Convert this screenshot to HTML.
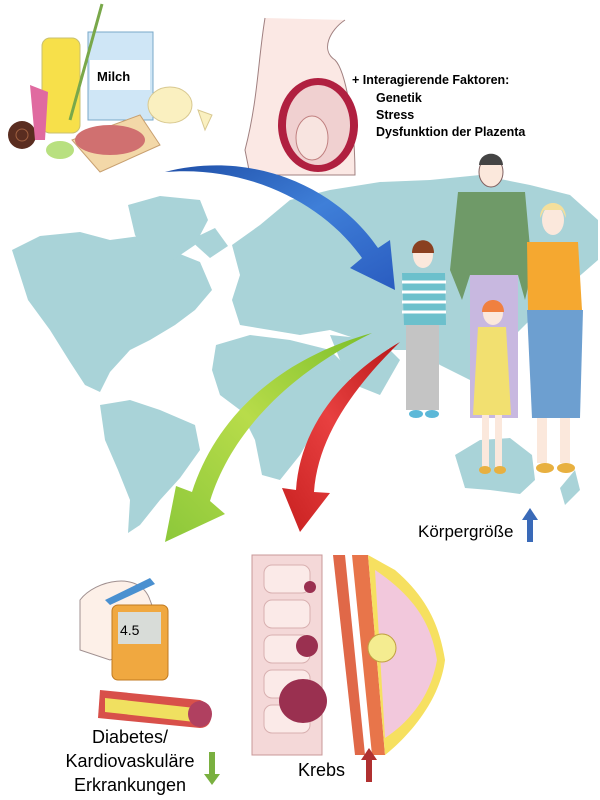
<!DOCTYPE html>
<html><head><meta charset="utf-8"><style>
html,body{margin:0;padding:0;background:#fff}
svg{display:block}
text{font-family:"Liberation Sans",sans-serif}
</style></head><body>
<svg width="600" height="800" viewBox="0 0 600 800" xmlns="http://www.w3.org/2000/svg">
<defs>
<linearGradient id="gb" x1="0" y1="0" x2="1" y2="1"><stop offset="0" stop-color="#1f4fa8"/><stop offset="0.5" stop-color="#3f7fd8"/><stop offset="1" stop-color="#2a5cc0"/></linearGradient>
<linearGradient id="gg" x1="1" y1="0" x2="0" y2="1"><stop offset="0" stop-color="#7cbf2a"/><stop offset="0.5" stop-color="#b8dc4a"/><stop offset="1" stop-color="#8cc83a"/></linearGradient>
<linearGradient id="gr" x1="1" y1="0" x2="0" y2="1"><stop offset="0" stop-color="#b81818"/><stop offset="0.5" stop-color="#e84040"/><stop offset="1" stop-color="#c82020"/></linearGradient>
</defs>
<!-- world map -->
<g fill="#a9d3d8">
<path d="M12,250 L40,236 L80,232 L110,240 L140,236 L170,250 L200,262 L212,290 L195,310 L175,325 L150,340 L130,350 L110,372 L100,392 L85,385 L70,362 L50,330 L28,300 L20,275 Z"/>
<path d="M128,205 L160,196 L200,200 L208,220 L195,245 L170,262 L150,258 L135,235 Z"/>
<path d="M100,405 L130,400 L160,410 L195,425 L200,450 L180,478 L160,500 L140,525 L128,533 L130,500 L118,470 L105,440 Z"/>
<path d="M232,245 L260,225 L290,200 L330,190 L380,182 L430,180 L480,175 L530,185 L570,195 L598,220 L598,260 L575,280 L555,300 L530,320 L510,340 L495,370 L470,380 L440,365 L420,350 L395,350 L375,345 L360,340 L330,330 L300,335 L270,330 L240,325 L232,300 L240,275 Z"/>
<path d="M216,345 L250,335 L290,340 L330,350 L352,372 L345,400 L320,420 L300,455 L280,480 L262,475 L255,440 L240,410 L220,395 L212,370 Z"/>
<path d="M455,455 L480,440 L510,438 L532,455 L535,480 L520,494 L490,490 L465,488 Z"/>
<path d="M560,488 L575,470 L580,490 L565,505 Z"/>
<path d="M190,240 L215,228 L228,246 L210,258 Z"/>
<path d="M330,335 L380,340 L400,360 L380,395 L355,385 L340,360 Z"/>
</g>
<!-- food -->
<rect x="88" y="32" width="65" height="88" fill="#cfe6f6" stroke="#7aa8c8"/>
<rect x="90" y="60" width="60" height="30" fill="#fff"/>
<text x="97" y="81" font-size="13" font-weight="bold" fill="#000">Milch</text>
<rect x="42" y="38" width="38" height="95" rx="8" fill="#f7e04a" stroke="#c8c070"/>
<line x1="70" y1="120" x2="102" y2="4" stroke="#79a84a" stroke-width="3"/>
<path d="M72,140 L140,115 L160,145 L100,172 Z" fill="#f3d8a8" stroke="#c8a070"/>
<ellipse cx="110" cy="140" rx="35" ry="15" fill="#d07070"/>
<ellipse cx="170" cy="105" rx="22" ry="18" fill="#faf0c0" stroke="#d8c890"/>
<path d="M198,110 L212,115 L205,130 Z" fill="#faf0c0" stroke="#d8c890"/>
<circle cx="22" cy="135" r="14" fill="#5a2d20"/>
<circle cx="22" cy="135" r="6" fill="none" stroke="#a06040"/>
<path d="M30,85 L48,92 L45,140 L35,140 Z" fill="#e06aa0"/>
<ellipse cx="60" cy="150" rx="14" ry="9" fill="#b8e080"/>
<!-- pregnant -->
<path d="M265,18 C258,60 258,100 245,150 L250,175 L355,175 C355,120 345,70 335,60 C320,50 330,30 345,20" fill="#fbe8e4" stroke="#a08080"/>
<ellipse cx="318" cy="125" rx="40" ry="47" fill="#b02040"/>
<ellipse cx="318" cy="125" rx="32" ry="40" fill="#f0d0d0"/>
<ellipse cx="312" cy="138" rx="16" ry="22" fill="#f8e4e0" stroke="#c08080"/>
<text x="352" y="84" font-size="12.5" font-weight="bold" fill="#000">+ Interagierende Faktoren:</text>
<text x="376" y="102" font-size="12.5" font-weight="bold" fill="#000">Genetik</text>
<text x="376" y="119" font-size="12.5" font-weight="bold" fill="#000">Stress</text>
<text x="376" y="136" font-size="12.5" font-weight="bold" fill="#000">Dysfunktion der Plazenta</text>
<!-- family -->
<g>
<rect x="470" y="268" width="48" height="150" fill="#c8b8e0"/>
<path d="M458,192 L525,192 L532,270 L525,300 L518,275 L470,275 L462,300 L450,270 Z" fill="#6f9a68"/>
<ellipse cx="491" cy="172" rx="12" ry="15" fill="#fbe8dc" stroke="#806060"/>
<path d="M479,165 C480,150 502,150 503,165 Z" fill="#444"/>
<path d="M527,242 L578,242 L582,310 L528,310 Z" fill="#f5a830"/>
<path d="M527,310 L583,310 L580,418 L532,418 Z" fill="#6d9fd0"/>
<rect x="537" y="418" width="10" height="45" fill="#fbe8dc"/><rect x="560" y="418" width="10" height="45" fill="#fbe8dc"/>
<ellipse cx="545" cy="468" rx="9" ry="5" fill="#e8b040"/><ellipse cx="566" cy="468" rx="9" ry="5" fill="#e8b040"/>
<ellipse cx="553" cy="220" rx="11" ry="15" fill="#fbe8dc"/>
<path d="M540,218 C540,198 566,198 566,218 L562,210 L544,210 Z" fill="#f4df9c"/>
<path d="M402,273 L445,273 L446,325 L404,325 Z" fill="#6cc0cc"/>
<g stroke="#fff" stroke-width="3"><line x1="402" y1="282" x2="446" y2="282"/><line x1="402" y1="292" x2="446" y2="292"/><line x1="402" y1="302" x2="446" y2="302"/><line x1="402" y1="312" x2="446" y2="312"/></g>
<rect x="406" y="325" width="33" height="85" fill="#c4c4c4"/>
<ellipse cx="416" cy="414" rx="7" ry="4" fill="#5cb8d8"/><ellipse cx="432" cy="414" rx="7" ry="4" fill="#5cb8d8"/>
<ellipse cx="423" cy="255" rx="10" ry="13" fill="#fbe8dc"/>
<path d="M412,253 C412,236 434,236 434,253 Z" fill="#8a4020"/>
<path d="M478,327 L506,327 L511,415 L473,415 Z" fill="#f2e070"/>
<rect x="482" y="415" width="7" height="52" fill="#fbe8dc"/><rect x="495" y="415" width="7" height="52" fill="#fbe8dc"/>
<ellipse cx="485" cy="470" rx="6" ry="4" fill="#e8b040"/><ellipse cx="500" cy="470" rx="6" ry="4" fill="#e8b040"/>
<ellipse cx="493" cy="313" rx="10" ry="12" fill="#fbe8dc"/>
<path d="M482,312 C482,296 504,296 504,312 Z" fill="#f08040"/>
</g>
<!-- arrows -->
<path d="M165,172 C250,165 325,205 362,258 L350,268 L395,290 L390,240 L378,248 C335,185 250,150 165,172 Z" fill="url(#gb)"/>
<path d="M372,333 C275,360 215,420 192,492 L176,486 L165,542 L225,514 L210,501 C232,430 292,372 372,333 Z" fill="url(#gg)"/>
<path d="M400,342 C338,378 300,430 296,490 L282,488 L300,532 L330,493 L314,492 C318,435 356,385 400,342 Z" fill="url(#gr)"/>
<text x="418" y="537" font-size="17" fill="#000">Körpergröße</text>
<path d="M527,542 L527,520 L522,520 L530,508 L538,520 L533,520 L533,542 Z" fill="#3a6ab8"/>
<!-- diabetes -->
<path d="M80,600 C95,580 140,570 150,600 L165,640 L110,660 L80,650 Z" fill="#fdf0e8" stroke="#a09090"/>
<path d="M105,600 L150,578 L155,584 L110,605 Z" fill="#4a90d0"/>
<rect x="112" y="605" width="56" height="75" rx="6" fill="#f0a840" stroke="#c07a20"/>
<rect x="118" y="612" width="43" height="32" fill="#d8dcd8"/>
<text x="120" y="635" font-size="14" fill="#000">4.5</text>
<path d="M100,690 L200,700 C215,705 215,728 200,728 L98,718 Z" fill="#d8504a"/>
<path d="M105,698 L195,708 L195,722 L105,712 Z" fill="#f0e060"/>
<ellipse cx="200" cy="714" rx="12" ry="13" fill="#b04060"/>
<text x="130" y="743" font-size="18" fill="#000" text-anchor="middle">Diabetes/</text>
<text x="130" y="767" font-size="18" fill="#000" text-anchor="middle">Kardiovaskuläre</text>
<text x="130" y="791" font-size="18" fill="#000" text-anchor="middle">Erkrankungen</text>
<path d="M209,752 L215,752 L215,774 L220,774 L212,785 L204,774 L209,774 Z" fill="#7ab040"/>
<!-- colon -->
<rect x="252" y="555" width="70" height="200" fill="#f4d8d8" stroke="#c89898"/>
<g fill="#fbeae8" stroke="#d8b0b0"><rect x="264" y="565" width="46" height="28" rx="8"/><rect x="264" y="600" width="46" height="28" rx="8"/><rect x="264" y="635" width="46" height="28" rx="8"/><rect x="264" y="670" width="46" height="28" rx="8"/><rect x="264" y="705" width="46" height="28" rx="8"/></g>
<circle cx="310" cy="587" r="6" fill="#9a3050"/>
<circle cx="307" cy="646" r="11" fill="#9a3050"/>
<ellipse cx="303" cy="701" rx="24" ry="22" fill="#9a3050"/>
<!-- breast -->
<path d="M333,555 L345,555 L365,755 L355,755 Z" fill="#e06848"/>
<path d="M352,555 L368,555 L385,755 L372,755 Z" fill="#e8754a"/>
<path d="M368,555 L395,570 C430,600 440,630 445,660 C440,700 410,735 385,755 Z" fill="#f6e060"/>
<path d="M375,570 C420,600 432,630 437,660 C430,700 405,725 385,738 Z" fill="#f2c8dc"/>
<circle cx="382" cy="648" r="14" fill="#f4ec90" stroke="#c0a040"/>
<text x="298" y="776" font-size="18" fill="#000">Krebs</text>
<path d="M366,782 L366,760 L361,760 L369,748 L377,760 L372,760 L372,782 Z" fill="#b03030"/>
</svg>
</body></html>
